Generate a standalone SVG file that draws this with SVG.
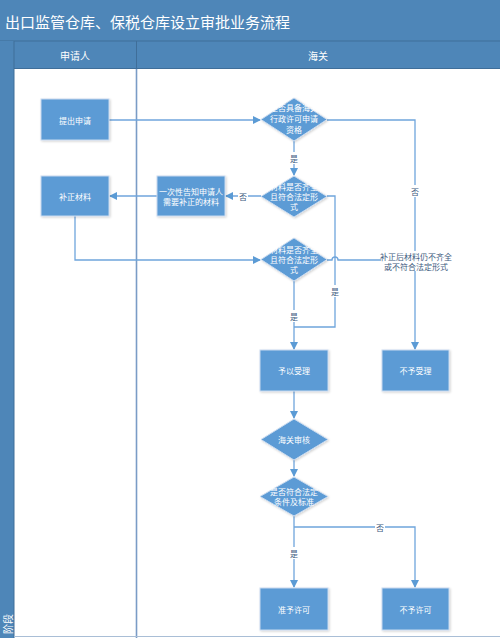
<svg xmlns="http://www.w3.org/2000/svg" width="500" height="638" viewBox="0 0 500 638">
<defs>
<marker id="arr" markerWidth="8" markerHeight="8" refX="7" refY="4" orient="auto" markerUnits="userSpaceOnUse">
<path d="M0,0 L8,4 L0,8 Z" fill="#5b9bd5"/>
</marker>
<filter id="sh" x="-10%" y="-10%" width="130%" height="130%">
<feDropShadow dx="1" dy="1" stdDeviation="0.8" flood-color="#000" flood-opacity="0.18"/>
</filter>
<style>
text{font-family:"Noto Sans CJK SC","Liberation Sans",sans-serif;}
.node{fill:#5b9bd5;stroke:#c9daef;stroke-width:1;filter:url(#sh);}
.nt{fill:#fff;font-size:8px;text-anchor:middle;dominant-baseline:central;}
.edge{fill:none;stroke:#6fa5dc;stroke-width:1.3;}
.lbl{fill:#3d5a7e;font-size:8px;text-anchor:middle;dominant-baseline:central;}
.lb{fill:#fff;}
.hdr{fill:#fff;font-size:10px;text-anchor:middle;dominant-baseline:central;}
</style>
</defs>
<g id="background">
<rect x="0" y="0" width="500" height="638" fill="#fff"/>
<rect x="0" y="0" width="500" height="41" fill="#4e86b8"/>
<rect x="0" y="41" width="500" height="28" fill="#4e86b8"/>
<line x1="0" y1="41" x2="500" y2="41" stroke="#3f6e99" stroke-width="1"/>
<line x1="14" y1="68.5" x2="500" y2="68.5" stroke="#3f6e99" stroke-width="1"/>
<rect x="0" y="41" width="14" height="597" fill="#4e86b8"/>
<line x1="14" y1="41" x2="14" y2="638" stroke="#3f6e99" stroke-width="1"/>
<line x1="136.5" y1="41" x2="136.5" y2="69" stroke="#3f6e99" stroke-width="1"/>
<line x1="136.5" y1="69" x2="136.5" y2="638" stroke="#7a9cc6" stroke-width="1.6"/>
<line x1="14" y1="636.5" x2="500" y2="636.5" stroke="#a9bed6" stroke-width="1.2"/>
<text x="5" y="21" fill="#fff" font-size="15" dominant-baseline="central">出口监管仓库、保税仓库设立审批业务流程</text>
<text class="hdr" x="75" y="55">申请人</text>
<text class="hdr" x="318" y="55">海关</text>
<text x="7" y="624" fill="#fff" font-size="10" text-anchor="middle" dominant-baseline="central" transform="rotate(-90 7 624)">阶段</text>
</g>
<g id="connectors">
<line class="edge" x1="109" y1="120" x2="260" y2="120" marker-end="url(#arr)"/>
<line class="edge" x1="294" y1="141" x2="294" y2="175" marker-end="url(#arr)"/>
<path class="edge" d="M327,120 H415 V349" marker-end="url(#arr)"/>
<line class="edge" x1="261" y1="196" x2="226" y2="196" marker-end="url(#arr)"/>
<line class="edge" x1="157" y1="196" x2="110" y2="196" marker-end="url(#arr)"/>
<path class="edge" d="M75,216 V260 H260" marker-end="url(#arr)"/>
<path class="edge" d="M327,196 H335 V327 H294"/>
<path class="edge" d="M327,260 H332 A3,3 0 0 1 338,260 H415"/>
<line class="edge" x1="294" y1="281" x2="294" y2="349" marker-end="url(#arr)"/>
<line class="edge" x1="294" y1="391" x2="294" y2="418" marker-end="url(#arr)"/>
<line class="edge" x1="294" y1="460" x2="294" y2="476" marker-end="url(#arr)"/>
<line class="edge" x1="294" y1="516" x2="294" y2="587" marker-end="url(#arr)"/>
<path class="edge" d="M294,527 H415 V587" marker-end="url(#arr)"/>
<rect class="lb" x="289" y="152" width="10" height="12"/>
<text class="lbl" x="294" y="158">是</text>
<rect class="lb" x="410" y="185" width="10" height="12"/>
<text class="lbl" x="415" y="191">否</text>
<rect class="lb" x="238" y="190" width="10" height="12"/>
<text class="lbl" x="243" y="196">否</text>
<rect class="lb" x="330" y="285" width="10" height="12"/>
<text class="lbl" x="335" y="291">是</text>
<rect class="lb" x="289" y="310" width="10" height="12"/>
<text class="lbl" x="294" y="316">是</text>
<rect class="lb" x="381" y="251" width="70" height="20"/>
<text class="lbl" x="416" y="256">补正后材料仍不齐全</text>
<text class="lbl" x="416" y="266">或不符合法定形式</text>
<rect class="lb" x="289" y="547" width="10" height="12"/>
<text class="lbl" x="294" y="553">是</text>
<rect class="lb" x="375" y="521" width="10" height="12"/>
<text class="lbl" x="380" y="527">否</text>
</g>
<g id="n_submit">
<rect class="node" x="41" y="99" width="68" height="41"/>
<text class="nt" x="75" y="120">提出申请</text>
</g>
<g id="n_supplement">
<rect class="node" x="41" y="176" width="68" height="40"/>
<text class="nt" x="75" y="196">补正材料</text>
</g>
<g id="n_notify">
<rect class="node" x="157" y="176" width="68" height="40"/>
<text class="nt" x="191" y="191">一次性告知申请人</text>
<text class="nt" x="191" y="201">需要补正的材料</text>
</g>
<g id="d_qualify">
<polygon class="node" points="294,98 327,119.5 294,141 261,119.5"/>
<text class="nt" x="294" y="107">是否具备海关</text>
<text class="nt" x="294" y="118">行政许可申请</text>
<text class="nt" x="294" y="129">资格</text>
</g>
<g id="d_complete1">
<polygon class="node" points="294,176 327,196.5 294,217 261,196.5"/>
<text class="nt" x="294" y="186">材料是否齐全</text>
<text class="nt" x="294" y="196">且符合法定形</text>
<text class="nt" x="294" y="206">式</text>
</g>
<g id="d_complete2">
<polygon class="node" points="294,238 327,259.5 294,281 261,259.5"/>
<text class="nt" x="294" y="249">材料是否齐全</text>
<text class="nt" x="294" y="259">且符合法定形</text>
<text class="nt" x="294" y="269">式</text>
</g>
<g id="n_accept">
<rect class="node" x="260" y="350" width="68" height="41"/>
<text class="nt" x="294" y="370.5">予以受理</text>
</g>
<g id="n_reject">
<rect class="node" x="382" y="350" width="67" height="41"/>
<text class="nt" x="415.5" y="370.5">不予受理</text>
</g>
<g id="d_review">
<polygon class="node" points="294,419 328,439.5 294,460 261,439.5"/>
<text class="nt" x="294" y="439.5">海关审核</text>
</g>
<g id="d_standard">
<polygon class="node" points="294,477 328,496.5 294,516 260,496.5"/>
<text class="nt" x="294" y="491">是否符合法定</text>
<text class="nt" x="294" y="501">条件及标准</text>
</g>
<g id="n_grant">
<rect class="node" x="260" y="588" width="68" height="42"/>
<text class="nt" x="294" y="609">准予许可</text>
</g>
<g id="n_deny">
<rect class="node" x="382" y="588" width="67" height="42"/>
<text class="nt" x="415.5" y="609">不予许可</text>
</g>
</svg>
